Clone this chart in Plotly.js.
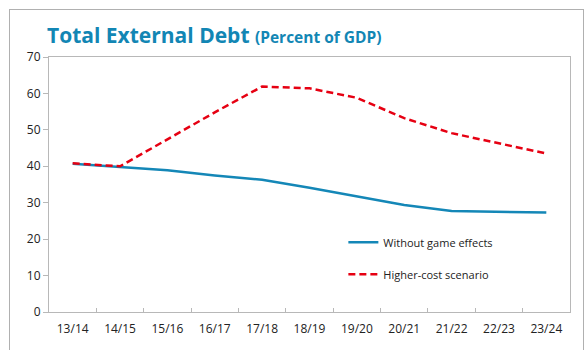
<!DOCTYPE html>
<html>
<head>
<meta charset="utf-8">
<script src="https://cdn.plot.ly/plotly-3.0.1.min.js"></script>
<style>
  html, body { margin: 0; padding: 0; background: #fff; }
  #wrap { position: relative; width: 587px; height: 350px; overflow: hidden; }
  #frame { position: absolute; left: 9px; top: 9px; width: 575px; height: 360px; border: 1.5px solid #b0b0b0; box-sizing: border-box; pointer-events: none; }
  #chart { position: absolute; left: 0; top: 0; width: 587px; height: 350px; }
</style>
</head>
<body>
<div id="wrap">
  <div id="chart"></div>
  <div id="frame"></div>
</div>
<script>
const categories = ["13/14","14/15","15/16","16/17","17/18","18/19","19/20","20/21","21/22","22/23","23/24"];
const withoutGameEffects = [40.7, 39.9, 38.9, 37.5, 36.3, 34.1, 31.8, 29.4, 27.7, 27.5, 27.3];
const higherCostScenario = [40.8, 40.0, 47.4, 54.8, 61.9, 61.4, 58.8, 53.2, 49.1, 46.3, 43.5];
const seriesNames = ["Without game effects", "Higher-cost scenario"];

const traces = [
  {
    x: categories, y: withoutGameEffects, name: seriesNames[0],
    type: 'scatter', mode: 'lines', legendgroup: 'a',
    line: { color: '#1487b7', width: 2.5 }
  },
  {
    x: categories, y: higherCostScenario, name: seriesNames[1],
    type: 'scatter', mode: 'lines', legendgroup: 'b',
    line: { color: '#e60012', width: 2.5, dash: '7px,4px' }
  }
];

const tickFont = { family: 'Open Sans, sans-serif', size: 12, color: '#222' };

const layout = {
  width: 587, height: 350,
  margin: { l: 49, r: 17, t: 57, b: 38 },
  paper_bgcolor: '#ffffff', plot_bgcolor: '#ffffff',
  showlegend: true,
  title: {
    text: '<b>Total External Debt</b> <b><span style="font-size:15.5px">(Percent of GDP)</span></b>',
    font: { family: 'Open Sans, sans-serif', size: 21, color: '#1286b4' },
    x: 47 / 587, xanchor: 'left', xref: 'container',
    y: 1 - 36 / 350, yanchor: 'middle', yref: 'container'
  },
  xaxis: {
    type: 'category',
    showline: true, linecolor: '#b8b8b8', linewidth: 1, mirror: true,
    ticks: 'inside', tickcolor: '#b8b8b8', ticklen: 4, tickson: 'boundaries',
    showgrid: false, zeroline: false,
    tickfont: tickFont, ticklabelstandoff: 6,
    range: [-0.5, 10.5]
  },
  yaxis: {
    range: [0, 70], dtick: 10, tick0: 0,
    showline: true, linecolor: '#b8b8b8', linewidth: 1, mirror: true,
    ticks: 'outside', tickcolor: '#b8b8b8', ticklen: 5,
    showgrid: false, zeroline: false,
    tickfont: tickFont
  },
  legend: {
    x: 0.565, xanchor: 'left', y: 0.33, yanchor: 'top',
    bgcolor: 'rgba(0,0,0,0)', borderwidth: 0,
    font: { family: 'Open Sans, sans-serif', size: 11, color: '#222' },
    traceorder: 'grouped', tracegroupgap: 13
  }
};

Plotly.newPlot('chart', traces, layout, { displayModeBar: false, staticPlot: true });
</script>
</body>
</html>
